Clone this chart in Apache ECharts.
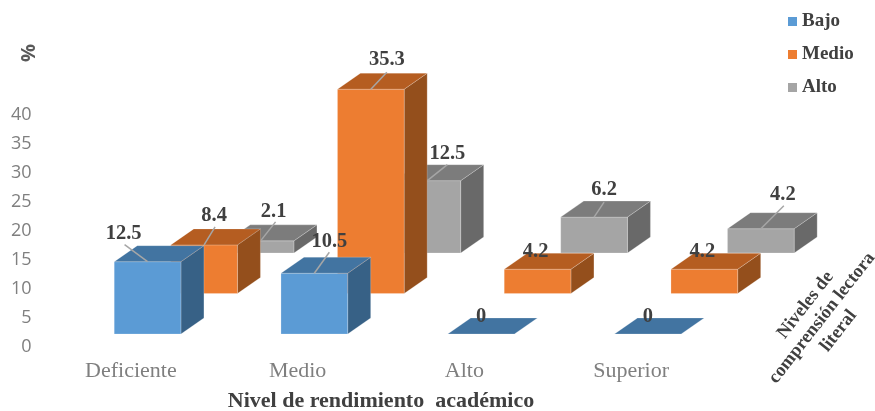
<!DOCTYPE html>
<html>
<head>
<meta charset="utf-8">
<style>html,body{margin:0;padding:0;background:#fff}#c{width:875px;height:411px}</style>
<script src="https://cdn.jsdelivr.net/npm/echarts@6/dist/echarts.min.js"></script>
</head>
<body>
<div id="c"></div>
<script>
const categories = ['Deficiente', 'Medio', 'Alto', 'Superior'];
const yTicks = { min: 0, max: 40, interval: 5 };
const bajo = [12.5, 10.5, 0, 0];
const medio = [8.4, 35.3, 4.2, 4.2];
const alto = [2.1, 12.5, 6.2, 4.2];

// Leader line end and label centre relative to the middle of each bar's top front edge:
// [lineDx, lineDy, labelDx, labelDy]; lineDx null = no leader line
const labelLayout = {
  Bajo: [[-23, -17, -24, -28], [15, -21, 15, -32], [null, 0, 0, -17], [null, 0, 0, -17]],
  Medio: [[11, -18, 10, -29], [16, -17, 16, -29], [null, 0, -2, -17], [null, 0, -2, -17]],
  Alto: [[15, -19, 13, -29], [20, -16, 20, -27], [10, -15, 10, -27], [23, -23, 22, -34]]
};
const palette = {
  Bajo: { front: '#5B9BD5', top: '#4274A1', side: '#376186' },
  Medio: { front: '#ED7D31', top: '#B55D21', side: '#944F1C' },
  Alto: { front: '#A5A5A5', top: '#7C7C7C', side: '#696969' }
};
const SERIF = '"Liberation Serif", serif';
const DEPTH_X = 23, DEPTH_Y = 16, ROW_X = 56.5, ROW_Y = 40.5, BASE_X = 16.7, BASE_Y = 12.5;

function bar3d(name, row) {
  const c = palette[name];
  return function (params, api) {
    const i = api.value(0), v = api.value(1);
    const pt = api.coord([i, v]), base = api.coord([i, 0]);
    const w = api.size([1, 0])[0] * 0.4;
    const cx = pt[0] + BASE_X + row * ROW_X;
    const shift = BASE_Y + row * ROW_Y;
    const l = cx - w / 2, r = cx + w / 2, t = pt[1] - shift, b = base[1] - shift;
    const edge = { stroke: 'rgba(255,255,255,0.35)', lineWidth: 0.6 };
    const kids = [];
    if (v > 0) {
      kids.push({ type: 'polygon', shape: { points: [[r, t], [r + DEPTH_X, t - DEPTH_Y], [r + DEPTH_X, b - DEPTH_Y], [r, b]] }, style: Object.assign({ fill: c.side }, edge) });
      kids.push({ type: 'rect', shape: { x: l, y: t, width: w, height: b - t }, style: Object.assign({ fill: c.front }, edge) });
    }
    kids.push({ type: 'polygon', shape: { points: [[l, t], [l + DEPTH_X, t - DEPTH_Y], [r + DEPTH_X, t - DEPTH_Y], [r, t]] }, style: Object.assign({ fill: c.top }, edge) });
    const lay = labelLayout[name][i];
    if (lay[0] !== null) {
      kids.push({ type: 'line', shape: { x1: cx, y1: t, x2: cx + lay[0], y2: t + lay[1] }, style: { stroke: '#A6A6A6', lineWidth: 1.5 } });
    }
    kids.push({ type: 'text', style: { text: String(v), x: cx + lay[2], y: t + lay[3], align: 'center', verticalAlign: 'middle', fill: '#404040', font: 'bold 20.5px ' + SERIF } });
    return { type: 'group', children: kids };
  };
}

function makeSeries(name, values, row, z) {
  return {
    type: 'custom', name: name, z: z, clip: false,
    coordinateSystem: 'cartesian2d',
    itemStyle: { color: palette[name].front },
    encode: { x: 0, y: 1 },
    data: values.map((v, i) => [i, v]),
    renderItem: bar3d(name, row)
  };
}

const chart = echarts.init(document.getElementById('c'), null, { renderer: 'canvas' });
chart.setOption({
  animation: false,
  backgroundColor: '#fff',
  grid: { left: 47.5, width: 667, top: 115, height: 231.5, containLabel: false, outerBoundsMode: 'none' },
  legend: {
    data: ['Bajo', 'Medio', 'Alto'], orient: 'vertical', left: 788, top: 11, padding: 0,
    icon: 'rect', itemWidth: 9, itemHeight: 9, itemGap: 12,
    textStyle: { fontFamily: SERIF, fontWeight: 'bold', fontSize: 19, lineHeight: 21, color: '#404040' }
  },
  xAxis: {
    type: 'category', data: categories,
    axisLine: { show: false }, axisTick: { show: false }, splitLine: { show: false },
    axisLabel: { fontFamily: SERIF, fontSize: 22, color: '#7F7F7F', margin: 14 },
    name: 'Nivel de rendimiento  académico', nameLocation: 'middle', nameGap: 44,
    nameTextStyle: { fontFamily: SERIF, fontWeight: 'bold', fontSize: 22, color: '#404040' }
  },
  yAxis: {
    type: 'value', min: yTicks.min, max: yTicks.max, interval: yTicks.interval,
    axisLine: { show: false }, axisTick: { show: false }, splitLine: { show: false },
    axisLabel: { fontFamily: '"Open Sans", sans-serif', fontSize: 18, color: '#7F7F7F', margin: 16, padding: [7, 0, 0, 0] }
  },
  graphic: [
    { type: 'text', x: 29, y: 53, rotation: Math.PI / 2, silent: true,
      style: { text: '%', align: 'center', verticalAlign: 'middle', fill: '#595959', font: 'bold 20px "Open Sans", sans-serif' } },
    { type: 'text', x: 822, y: 318, rotation: 52 * Math.PI / 180, silent: true,
      style: { text: 'Niveles de\ncomprensión lectora\nliteral', align: 'center', verticalAlign: 'middle', fill: '#404040', lineHeight: 21, font: 'bold 18.5px ' + SERIF } }
  ],
  series: [
    makeSeries('Alto', alto, 2, 2),
    makeSeries('Medio', medio, 1, 3),
    makeSeries('Bajo', bajo, 0, 4)
  ]
});
</script>
</body>
</html>
